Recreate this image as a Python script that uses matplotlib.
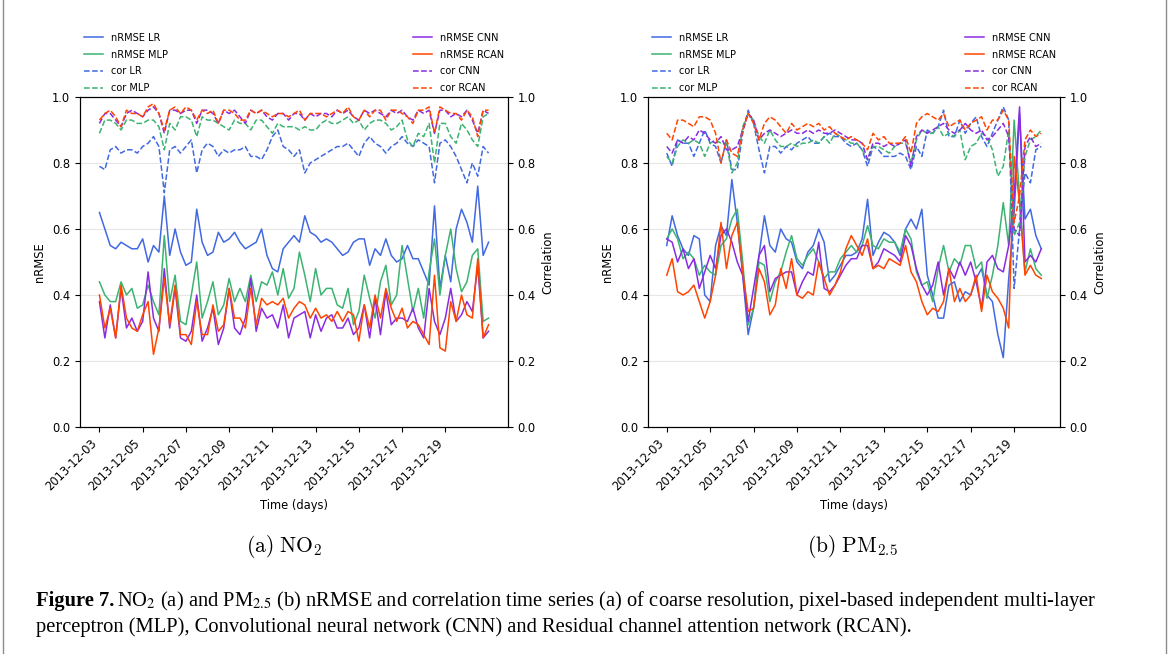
import matplotlib
matplotlib.use('Agg')
import matplotlib.pyplot as plt
import matplotlib.dates as mdates
from matplotlib.lines import Line2D
import pandas as pd

# ---- data (6-hourly samples) ----
no2_time = pd.date_range('2013-12-03', periods=73, freq='6h')
pm_time = pd.date_range('2013-12-03', periods=70, freq='6h')
tick_dates = pd.date_range('2013-12-03', '2013-12-19', freq='2D')

no2_nrmse_lr = [0.65, 0.60, 0.55, 0.54, 0.56, 0.55, 0.54, 0.54, 0.57, 0.50,
                0.55, 0.53, 0.70, 0.52, 0.60, 0.53, 0.49, 0.50, 0.66, 0.56,
                0.52, 0.53, 0.59, 0.56, 0.57, 0.59, 0.56, 0.54, 0.55, 0.56,
                0.60, 0.52, 0.48, 0.47, 0.54, 0.56, 0.58, 0.56, 0.64, 0.59,
                0.58, 0.56, 0.57, 0.56, 0.54, 0.52, 0.53, 0.56, 0.57, 0.57,
                0.49, 0.54, 0.52, 0.57, 0.52, 0.50, 0.51, 0.55, 0.51, 0.51,
                0.47, 0.43, 0.67, 0.42, 0.52, 0.44, 0.60, 0.66, 0.62, 0.56,
                0.73, 0.52, 0.56]
no2_nrmse_mlp = [0.44, 0.40, 0.38, 0.38, 0.44, 0.40, 0.42, 0.36, 0.37, 0.43,
                 0.38, 0.34, 0.58, 0.38, 0.46, 0.32, 0.31, 0.40, 0.50, 0.33,
                 0.38, 0.44, 0.34, 0.37, 0.45, 0.38, 0.42, 0.38, 0.46, 0.38,
                 0.44, 0.43, 0.47, 0.40, 0.48, 0.39, 0.42, 0.53, 0.46, 0.38,
                 0.48, 0.40, 0.42, 0.42, 0.37, 0.36, 0.42, 0.31, 0.35, 0.46,
                 0.39, 0.33, 0.44, 0.49, 0.37, 0.40, 0.55, 0.45, 0.35, 0.42,
                 0.33, 0.47, 0.57, 0.40, 0.52, 0.60, 0.48, 0.41, 0.44, 0.52,
                 0.54, 0.32, 0.33]
no2_nrmse_cnn = [0.38, 0.27, 0.37, 0.27, 0.42, 0.30, 0.33, 0.29, 0.32, 0.47,
                 0.33, 0.29, 0.48, 0.30, 0.42, 0.27, 0.26, 0.29, 0.40, 0.26,
                 0.30, 0.36, 0.25, 0.30, 0.42, 0.30, 0.28, 0.33, 0.45, 0.29,
                 0.36, 0.33, 0.34, 0.30, 0.37, 0.27, 0.33, 0.34, 0.35, 0.27,
                 0.34, 0.29, 0.33, 0.34, 0.30, 0.30, 0.33, 0.28, 0.30, 0.37,
                 0.27, 0.39, 0.28, 0.41, 0.31, 0.33, 0.33, 0.32, 0.36, 0.30,
                 0.27, 0.42, 0.32, 0.28, 0.33, 0.42, 0.32, 0.34, 0.38, 0.35,
                 0.49, 0.27, 0.29]
no2_nrmse_rcan = [0.40, 0.30, 0.36, 0.27, 0.43, 0.33, 0.30, 0.29, 0.34, 0.38,
                  0.22, 0.30, 0.45, 0.31, 0.43, 0.28, 0.28, 0.25, 0.38, 0.28,
                  0.28, 0.37, 0.29, 0.31, 0.42, 0.33, 0.33, 0.30, 0.42, 0.31,
                  0.39, 0.37, 0.38, 0.37, 0.39, 0.33, 0.36, 0.38, 0.37, 0.33,
                  0.36, 0.33, 0.34, 0.32, 0.35, 0.32, 0.35, 0.34, 0.26, 0.37,
                  0.30, 0.40, 0.33, 0.42, 0.36, 0.32, 0.36, 0.30, 0.32, 0.31,
                  0.28, 0.25, 0.46, 0.24, 0.23, 0.38, 0.32, 0.40, 0.34, 0.33,
                  0.51, 0.27, 0.31]
no2_cor_lr = [0.79, 0.78, 0.84, 0.85, 0.83, 0.84, 0.84, 0.83, 0.85, 0.86,
              0.88, 0.85, 0.71, 0.84, 0.85, 0.83, 0.85, 0.87, 0.77, 0.84,
              0.86, 0.85, 0.82, 0.84, 0.83, 0.84, 0.84, 0.85, 0.82, 0.82,
              0.81, 0.84, 0.88, 0.90, 0.85, 0.84, 0.82, 0.84, 0.77, 0.80,
              0.81, 0.82, 0.83, 0.84, 0.85, 0.85, 0.86, 0.84, 0.82, 0.86,
              0.88, 0.86, 0.85, 0.83, 0.85, 0.86, 0.88, 0.86, 0.85, 0.87,
              0.86, 0.85, 0.74, 0.86, 0.87, 0.85, 0.82, 0.78, 0.74, 0.80,
              0.76, 0.85, 0.83]
no2_cor_mlp = [0.89, 0.93, 0.93, 0.92, 0.90, 0.93, 0.93, 0.92, 0.92, 0.93,
               0.93, 0.91, 0.84, 0.92, 0.90, 0.94, 0.94, 0.93, 0.88, 0.94,
               0.93, 0.93, 0.92, 0.91, 0.90, 0.93, 0.92, 0.92, 0.90, 0.93,
               0.93, 0.91, 0.89, 0.92, 0.91, 0.91, 0.91, 0.90, 0.91, 0.90,
               0.90, 0.92, 0.93, 0.92, 0.92, 0.93, 0.94, 0.92, 0.93, 0.90,
               0.92, 0.93, 0.93, 0.92, 0.90, 0.91, 0.93, 0.87, 0.85, 0.89,
               0.88, 0.92, 0.80, 0.92, 0.92, 0.88, 0.86, 0.92, 0.90, 0.87,
               0.85, 0.94, 0.95]
no2_cor_cnn = [0.92, 0.95, 0.95, 0.93, 0.91, 0.95, 0.96, 0.95, 0.94, 0.96,
               0.97, 0.95, 0.89, 0.96, 0.96, 0.95, 0.96, 0.96, 0.92, 0.96,
               0.96, 0.95, 0.92, 0.96, 0.95, 0.96, 0.94, 0.92, 0.96, 0.95,
               0.96, 0.94, 0.93, 0.95, 0.95, 0.93, 0.95, 0.95, 0.93, 0.95,
               0.94, 0.95, 0.95, 0.94, 0.96, 0.95, 0.96, 0.94, 0.93, 0.96,
               0.95, 0.96, 0.95, 0.94, 0.96, 0.95, 0.96, 0.94, 0.93, 0.96,
               0.95, 0.96, 0.89, 0.96, 0.96, 0.94, 0.95, 0.94, 0.96, 0.93,
               0.89, 0.96, 0.95]
no2_cor_rcan = [0.93, 0.95, 0.96, 0.94, 0.91, 0.96, 0.95, 0.95, 0.94, 0.97,
                0.98, 0.95, 0.90, 0.96, 0.97, 0.95, 0.97, 0.96, 0.93, 0.96,
                0.95, 0.96, 0.92, 0.96, 0.96, 0.95, 0.93, 0.93, 0.96, 0.95,
                0.96, 0.95, 0.94, 0.95, 0.95, 0.94, 0.95, 0.96, 0.93, 0.95,
                0.95, 0.95, 0.94, 0.95, 0.96, 0.95, 0.97, 0.94, 0.93, 0.96,
                0.94, 0.96, 0.96, 0.93, 0.96, 0.96, 0.95, 0.94, 0.92, 0.96,
                0.96, 0.97, 0.89, 0.97, 0.96, 0.95, 0.95, 0.93, 0.96, 0.94,
                0.88, 0.96, 0.96]

pm_nrmse_lr = [0.55, 0.64, 0.58, 0.54, 0.52, 0.58, 0.57, 0.40, 0.38, 0.55,
               0.61, 0.58, 0.75, 0.62, 0.46, 0.28, 0.36, 0.52, 0.64, 0.55,
               0.53, 0.60, 0.57, 0.56, 0.50, 0.48, 0.53, 0.55, 0.60, 0.56,
               0.44, 0.46, 0.49, 0.52, 0.52, 0.53, 0.57, 0.69, 0.52, 0.56,
               0.59, 0.58, 0.56, 0.52, 0.60, 0.63, 0.60, 0.66, 0.46, 0.40,
               0.33, 0.33, 0.43, 0.44, 0.38, 0.41, 0.40, 0.45, 0.48, 0.40,
               0.38, 0.28, 0.21, 0.45, 0.65, 0.95, 0.63, 0.66, 0.58, 0.54]
pm_nrmse_mlp = [0.57, 0.60, 0.57, 0.51, 0.53, 0.51, 0.46, 0.49, 0.47, 0.46,
                0.55, 0.57, 0.63, 0.66, 0.50, 0.31, 0.36, 0.50, 0.49, 0.38,
                0.44, 0.47, 0.53, 0.58, 0.51, 0.49, 0.52, 0.54, 0.50, 0.45,
                0.47, 0.47, 0.51, 0.53, 0.55, 0.53, 0.55, 0.61, 0.55, 0.54,
                0.57, 0.56, 0.56, 0.53, 0.60, 0.57, 0.47, 0.43, 0.44, 0.38,
                0.48, 0.55, 0.47, 0.51, 0.49, 0.55, 0.55, 0.48, 0.50, 0.39,
                0.46, 0.55, 0.68, 0.55, 0.93, 0.70, 0.47, 0.54, 0.48, 0.46]
pm_nrmse_cnn = [0.57, 0.56, 0.50, 0.54, 0.48, 0.51, 0.42, 0.47, 0.52, 0.48,
                0.58, 0.60, 0.56, 0.50, 0.46, 0.32, 0.42, 0.52, 0.55, 0.41,
                0.45, 0.46, 0.47, 0.47, 0.40, 0.44, 0.47, 0.46, 0.56, 0.42,
                0.41, 0.43, 0.46, 0.49, 0.51, 0.51, 0.55, 0.55, 0.48, 0.50,
                0.54, 0.53, 0.52, 0.50, 0.58, 0.55, 0.48, 0.43, 0.40, 0.43,
                0.50, 0.40, 0.48, 0.45, 0.50, 0.46, 0.50, 0.44, 0.36, 0.50,
                0.52, 0.48, 0.47, 0.55, 0.70, 0.97, 0.50, 0.52, 0.50, 0.54]
pm_nrmse_rcan = [0.46, 0.51, 0.41, 0.40, 0.41, 0.43, 0.38, 0.33, 0.38, 0.46,
                 0.62, 0.48, 0.58, 0.62, 0.47, 0.35, 0.36, 0.48, 0.44, 0.34,
                 0.37, 0.48, 0.42, 0.51, 0.40, 0.39, 0.41, 0.40, 0.50, 0.45,
                 0.40, 0.43, 0.47, 0.54, 0.58, 0.55, 0.52, 0.57, 0.48, 0.49,
                 0.48, 0.51, 0.50, 0.49, 0.55, 0.47, 0.44, 0.38, 0.34, 0.36,
                 0.35, 0.38, 0.48, 0.38, 0.42, 0.38, 0.40, 0.46, 0.35, 0.46,
                 0.41, 0.39, 0.36, 0.30, 0.82, 0.68, 0.46, 0.49, 0.46, 0.45]
pm_cor_lr = [0.83, 0.79, 0.87, 0.86, 0.86, 0.82, 0.86, 0.90, 0.86, 0.85,
             0.80, 0.87, 0.78, 0.78, 0.89, 0.96, 0.92, 0.84, 0.77, 0.85,
             0.85, 0.83, 0.85, 0.84, 0.86, 0.87, 0.88, 0.86, 0.86, 0.88,
             0.89, 0.88, 0.88, 0.86, 0.85, 0.86, 0.84, 0.79, 0.85, 0.84,
             0.82, 0.82, 0.82, 0.83, 0.82, 0.78, 0.85, 0.82, 0.90, 0.89,
             0.91, 0.96, 0.88, 0.88, 0.93, 0.89, 0.92, 0.94, 0.88, 0.85,
             0.89, 0.93, 0.97, 0.93, 0.42, 0.60, 0.77, 0.74, 0.84, 0.85]
pm_cor_mlp = [0.82, 0.80, 0.85, 0.87, 0.86, 0.87, 0.86, 0.82, 0.86, 0.87,
              0.86, 0.86, 0.77, 0.80, 0.91, 0.95, 0.93, 0.88, 0.86, 0.90,
              0.87, 0.85, 0.85, 0.86, 0.85, 0.86, 0.86, 0.87, 0.86, 0.88,
              0.86, 0.89, 0.88, 0.87, 0.86, 0.86, 0.84, 0.81, 0.85, 0.85,
              0.84, 0.83, 0.85, 0.86, 0.86, 0.80, 0.87, 0.90, 0.89, 0.89,
              0.91, 0.88, 0.89, 0.88, 0.90, 0.81, 0.85, 0.86, 0.89, 0.88,
              0.84, 0.76, 0.79, 0.90, 0.58, 0.62, 0.82, 0.87, 0.88, 0.90]
pm_cor_cnn = [0.85, 0.83, 0.87, 0.86, 0.88, 0.87, 0.90, 0.89, 0.87, 0.86,
              0.88, 0.84, 0.84, 0.85, 0.90, 0.95, 0.93, 0.87, 0.89, 0.90,
              0.89, 0.88, 0.89, 0.90, 0.89, 0.89, 0.90, 0.89, 0.90, 0.89,
              0.89, 0.90, 0.89, 0.88, 0.87, 0.87, 0.86, 0.81, 0.86, 0.86,
              0.85, 0.86, 0.85, 0.86, 0.87, 0.79, 0.88, 0.90, 0.89, 0.90,
              0.91, 0.92, 0.90, 0.89, 0.90, 0.92, 0.90, 0.89, 0.90, 0.87,
              0.88, 0.90, 0.92, 0.88, 0.60, 0.58, 0.85, 0.88, 0.85, 0.86]
pm_cor_rcan = [0.89, 0.87, 0.93, 0.93, 0.92, 0.91, 0.94, 0.94, 0.93, 0.89,
               0.80, 0.87, 0.83, 0.82, 0.90, 0.95, 0.92, 0.87, 0.92, 0.94,
               0.93, 0.91, 0.89, 0.92, 0.90, 0.91, 0.92, 0.91, 0.92, 0.90,
               0.91, 0.89, 0.88, 0.87, 0.88, 0.87, 0.86, 0.84, 0.89, 0.87,
               0.88, 0.86, 0.86, 0.86, 0.88, 0.83, 0.92, 0.94, 0.95, 0.94,
               0.93, 0.95, 0.91, 0.92, 0.93, 0.90, 0.92, 0.93, 0.94, 0.90,
               0.93, 0.93, 0.96, 0.93, 0.62, 0.70, 0.87, 0.90, 0.88, 0.89]

models = ['LR', 'MLP', 'CNN', 'RCAN']
colors = {'LR': 'royalblue', 'MLP': 'mediumseagreen', 'CNN': 'blueviolet', 'RCAN': 'orangered'}

FS = 8.3
LW = 1.1


def draw_panel(rect, t, nrmse, cor):
    ax = fig.add_axes(rect)
    ax2 = ax.twinx()
    lines = {}
    for m in models:
        lines['nRMSE ' + m], = ax.plot(t, nrmse[m], color=colors[m], lw=LW)
    for m in models:
        lines['cor ' + m], = ax2.plot(t, cor[m], color=colors[m], lw=LW, ls='--')

    for a in (ax, ax2):
        a.set_ylim(0, 1)
        a.set_yticks([0, 0.2, 0.4, 0.6, 0.8, 1.0])
        a.tick_params(labelsize=FS)
    ax.yaxis.grid(True, color='0.9', lw=0.8)
    ax.set_axisbelow(True)
    ax.set_xticks(tick_dates)
    ax.xaxis.set_major_formatter(mdates.DateFormatter('%Y-%m-%d'))
    plt.setp(ax.get_xticklabels(), rotation=45, ha='right')
    ax.set_xlabel('Time (days)', fontsize=FS)
    ax.set_ylabel('nRMSE', fontsize=FS)
    ax2.set_ylabel('Correlation', fontsize=FS)

    order = ['nRMSE LR', 'nRMSE MLP', 'cor LR', 'cor MLP',
             'nRMSE CNN', 'nRMSE RCAN', 'cor CNN', 'cor RCAN']
    ax2.legend([lines[k] for k in order], order, ncol=2, mode='expand',
               loc='lower left', bbox_to_anchor=(0, 1.0, 1, 0.2),
               frameon=False, fontsize=7, handlelength=2.0,
               labelspacing=0.7, borderaxespad=0.0)
    return ax


fig = plt.figure(figsize=(11.71, 6.54), dpi=100)

W, H = 1171, 654
draw_panel([80 / W, 1 - 427 / H, 428 / W, 330 / H], no2_time,
           {'LR': no2_nrmse_lr, 'MLP': no2_nrmse_mlp, 'CNN': no2_nrmse_cnn, 'RCAN': no2_nrmse_rcan},
           {'LR': no2_cor_lr, 'MLP': no2_cor_mlp, 'CNN': no2_cor_cnn, 'RCAN': no2_cor_rcan})
draw_panel([648 / W, 1 - 427 / H, 412 / W, 330 / H], pm_time,
           {'LR': pm_nrmse_lr, 'MLP': pm_nrmse_mlp, 'CNN': pm_nrmse_cnn, 'RCAN': pm_nrmse_rcan},
           {'LR': pm_cor_lr, 'MLP': pm_cor_mlp, 'CNN': pm_cor_cnn, 'RCAN': pm_cor_rcan})

# sub captions
fig.text(284 / W, 1 - 547 / H, r'$\mathrm{(a)\ NO_2}$', fontsize=15.5,
         ha='center', va='center', math_fontfamily='cm')
fig.text(852 / W, 1 - 547 / H, r'$\mathrm{(b)\ PM_{2.5}}$', fontsize=15.5,
         ha='center', va='center', math_fontfamily='cm')

# figure caption
cap_font = 'Liberation Serif'
cap_size = 14.8
cap_x = 36
bold = fig.text(cap_x / W, 1 - 606 / H, 'Figure 7.', fontsize=cap_size, fontweight='bold',
                family=cap_font, va='baseline')
r = fig.canvas.get_renderer()
bb = bold.get_window_extent(r)
fig.text((bb.x1 + 3) / W, 1 - 606 / H,
         'NO$_2$ (a) and PM$_{2.5}$ (b) nRMSE and correlation time series (a) of coarse resolution, '
         'pixel-based independent multi-layer',
         fontsize=cap_size, family=cap_font, va='baseline', math_fontfamily='stix')
fig.text(cap_x / W, 1 - 632 / H,
         'perceptron (MLP), Convolutional neural network (CNN) and Residual channel attention network (RCAN).',
         fontsize=cap_size, family=cap_font, va='baseline')

# page frame
for x in (3, 1166):
    fig.add_artist(Line2D([x / W, x / W], [0, 1], transform=fig.transFigure, color='0.55', lw=1))

fig.savefig('out.png', dpi=100)
